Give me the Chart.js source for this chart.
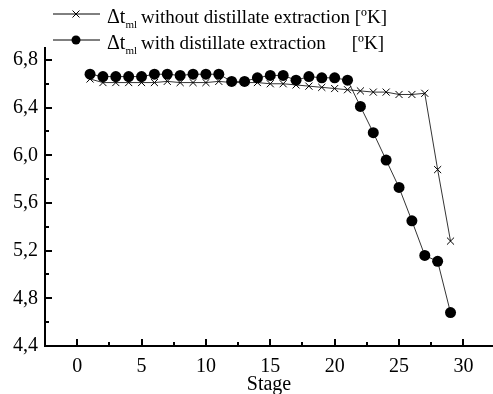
<!DOCTYPE html>
<html>
<head>
<meta charset="utf-8">
<script src="https://cdn.jsdelivr.net/npm/chart.js@4/dist/chart.umd.min.js"></script>
<style>
  html, body { margin: 0; padding: 0; background: #fff; }
  #wrap { width: 493px; height: 394px; }
</style>
</head>
<body>
<div id="wrap"><canvas id="chart" width="493" height="394"></canvas></div>
<script>
// Stage numbers (x values)
const stages = [1, 2, 3, 4, 5, 6, 7, 8, 9, 10, 11, 12, 13, 14, 15, 16, 17, 18, 19, 20, 21, 22, 23, 24, 25, 26, 27, 28, 29];

// delta t_ml without distillate extraction (crosses)
const withoutExtraction = [6.64, 6.61, 6.61, 6.61, 6.61, 6.61, 6.62, 6.61, 6.61, 6.61, 6.62, 6.61, 6.61, 6.61, 6.60,
    6.60, 6.59, 6.58, 6.57, 6.56, 6.55, 6.54, 6.53, 6.53, 6.51, 6.51, 6.52, 5.88, 5.28];

// delta t_ml with distillate extraction (filled circles)
const withExtraction = [6.68, 6.66, 6.66, 6.66, 6.66, 6.68, 6.68, 6.67, 6.68, 6.68, 6.68, 6.62, 6.62, 6.65, 6.67,
    6.67, 6.63, 6.66, 6.65, 6.65, 6.63, 6.41, 6.19, 5.96, 5.73, 5.45, 5.16, 5.11, 4.68];

// Axis ticks
const xTicks = [0, 5, 10, 15, 20, 25, 30];
const yTicks = [4.4, 4.8, 5.2, 5.6, 6.0, 6.4, 6.8];

// Legend texts
const legendLabels = ['without distillate extraction', 'with distillate extraction'];
const legendUnit = '[ºK]';

const FONT = '"Liberation Serif", "Times New Roman", serif';

function toPoints(values) {
    return stages.map((s, i) => ({ x: s, y: values[i] }));
}

// Draws inward tick marks (major + minor) on both axes
const insideTicks = {
    id: 'insideTicks',
    afterDraw(chart) {
        const ctx = chart.ctx;
        const xs = chart.scales.x;
        const ys = chart.scales.y;
        const area = chart.chartArea;
        ctx.save();
        ctx.strokeStyle = '#000';
        ctx.lineWidth = 2;
        ctx.beginPath();
        xTicks.forEach(v => {
            const px = Math.round(xs.getPixelForValue(v));
            ctx.moveTo(px, area.bottom);
            ctx.lineTo(px, area.bottom - 7);
            const mx = Math.round(xs.getPixelForValue(v + 2.5));
            if (v + 2.5 < xs.max) {
                ctx.moveTo(mx, area.bottom);
                ctx.lineTo(mx, area.bottom - 4);
            }
        });
        yTicks.forEach(v => {
            const py = Math.round(ys.getPixelForValue(v));
            ctx.moveTo(area.left, py);
            ctx.lineTo(area.left + 7, py);
            if (v + 0.2 < ys.max) {
                const my = Math.round(ys.getPixelForValue(v + 0.2));
                ctx.moveTo(area.left, my);
                ctx.lineTo(area.left + 4, my);
            }
        });
        ctx.stroke();
        ctx.restore();
    }
};

// Custom legend: line - marker - line, then Δt with subscript "ml"
const customLegend = {
    id: 'customLegend',
    afterDraw(chart) {
        const ctx = chart.ctx;
        const rows = [14, 40];
        const styles = ['crossRot', 'circle'];
        ctx.save();
        ctx.fillStyle = '#000';
        ctx.strokeStyle = '#000';
        let unitX = 0;
        rows.forEach((y, i) => {
            ctx.lineWidth = 1;
            ctx.beginPath();
            ctx.moveTo(53, y);
            ctx.lineTo(100, y);
            ctx.stroke();
            if (styles[i] === 'circle') {
                ctx.beginPath();
                ctx.arc(76, y, 4.5, 0, Math.PI * 2);
                ctx.fill();
            } else {
                ctx.beginPath();
                ctx.moveTo(72.5, y - 3.5);
                ctx.lineTo(79.5, y + 3.5);
                ctx.moveTo(79.5, y - 3.5);
                ctx.lineTo(72.5, y + 3.5);
                ctx.stroke();
            }
            const base = y + 9;
            let x = 107;
            ctx.textBaseline = 'alphabetic';
            ctx.textAlign = 'left';
            ctx.font = '20px ' + FONT;
            ctx.fillText('Δt', x, base);
            x += ctx.measureText('Δt').width;
            ctx.font = '11px ' + FONT;
            ctx.fillText('ml', x, base + 5);
            x += ctx.measureText('ml').width + 4;
            ctx.font = '19px ' + FONT;
            ctx.fillText(legendLabels[i], x, base);
            if (i === 0) {
                x += ctx.measureText(legendLabels[i] + ' ').width;
                unitX = x;
                ctx.fillText(legendUnit, x, base);
            } else {
                ctx.fillText(legendUnit, unitX - 3, base);
            }
        });
        ctx.restore();
    }
};

const ctx = document.getElementById('chart').getContext('2d');
new Chart(ctx, {
    type: 'line',
    data: {
        datasets: [{
            label: 'Δtml without distillate extraction [ºK]',
            data: toPoints(withoutExtraction),
            borderColor: '#000',
            borderWidth: 0.8,
            pointStyle: 'crossRot',
            pointRadius: 5,
            pointBorderWidth: 1,
            pointBorderColor: '#000',
            pointBackgroundColor: '#000',
            order: 2
        }, {
            label: 'Δtml with distillate extraction [ºK]',
            data: toPoints(withExtraction),
            borderColor: '#000',
            borderWidth: 0.8,
            pointStyle: 'circle',
            pointRadius: 5.5,
            pointBorderWidth: 0,
            pointBackgroundColor: '#000',
            order: 1
        }]
    },
    options: {
        responsive: false,
        animation: false,
        layout: {
            autoPadding: false,
            padding: { top: 48, right: 0, left: 0, bottom: 0 }
        },
        plugins: {
            legend: { display: false },
            tooltip: { enabled: false }
        },
        scales: {
            x: {
                type: 'linear',
                min: -2.5,
                max: 32.3,
                afterBuildTicks: (scale) => {
                    scale.ticks = xTicks.map(v => ({ value: v }));
                },
                afterFit: (scale) => {
                    scale.height = 48;
                    scale.paddingLeft = 0;
                    scale.paddingRight = 0;
                },
                grid: { display: false, drawTicks: false },
                border: { display: true, color: '#000', width: 2 },
                ticks: {
                    color: '#000',
                    padding: 9,
                    maxRotation: 0,
                    font: { family: FONT, size: 20 }
                },
                title: {
                    display: true,
                    text: 'Stage',
                    color: '#000',
                    padding: { top: 0, bottom: -3 },
                    font: { family: FONT, size: 20 }
                }
            },
            y: {
                type: 'linear',
                min: 4.4,
                max: 6.9,
                afterBuildTicks: (scale) => {
                    scale.ticks = yTicks.map(v => ({ value: v }));
                },
                afterFit: (scale) => {
                    scale.width = 45;
                    scale.paddingTop = 0;
                    scale.paddingBottom = 0;
                },
                grid: { display: false, drawTicks: false },
                border: { display: true, color: '#000', width: 2 },
                ticks: {
                    color: '#000',
                    padding: 7,
                    font: { family: FONT, size: 20 },
                    callback: (v) => v.toFixed(1).replace('.', ',')
                }
            }
        }
    },
    plugins: [insideTicks, customLegend]
});
</script>
</body>
</html>
